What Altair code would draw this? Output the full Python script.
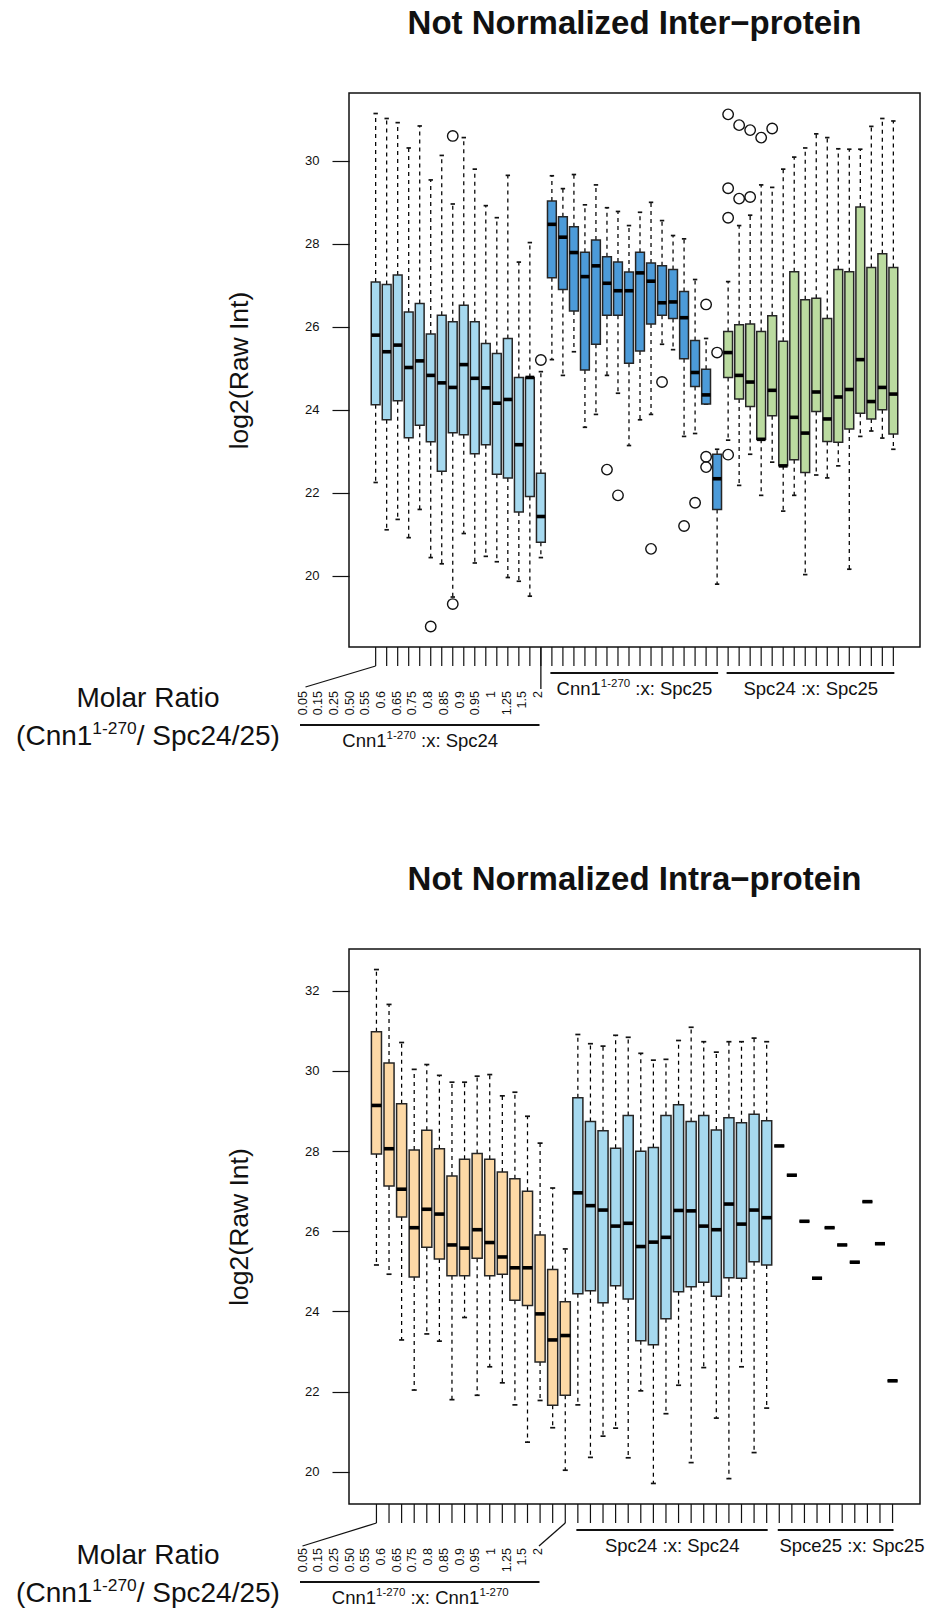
import altair as alt
import pandas as pd

FONT = "Liberation Sans"
INK = "#111111"
EDGE = "#262626"

# ---------------- tick labels ----------------
ratio_labels = ["0.05", "0.15", "0.25", "0.50", "0.55", "0.6", "0.65", "0.75",
                "0.8", "0.85", "0.9", "0.95", "1", "1.25", "1.5", "2"]

# ---------------- Inter-protein panel (top) ----------------
c24_wtop = [31.14, 31.02, 30.92, 30.31, 30.84, 29.54, 30.13, 28.96, 30.56, 29.80, 28.92, 28.63, 29.65, 27.56, 28.03, 24.92]
c24_q3   = [27.08, 27.02, 27.25, 26.36, 26.56, 25.83, 26.28, 26.12, 26.52, 26.12, 25.60, 25.36, 25.72, 24.78, 24.78, 22.47]
c24_med  = [25.80, 25.40, 25.56, 25.02, 25.18, 24.83, 24.65, 24.54, 25.09, 24.76, 24.53, 24.16, 24.25, 23.16, 24.78, 21.43]
c24_q1   = [24.12, 23.76, 24.22, 23.33, 23.63, 23.23, 22.52, 23.45, 23.40, 22.94, 23.16, 22.45, 22.36, 21.54, 21.91, 20.81]
c24_wbot = [22.25, 21.11, 21.36, 20.92, 21.60, 20.44, 20.29, 19.49, 21.02, 20.31, 20.47, 20.34, 19.96, 19.87, 19.51, 20.44]

c25_wtop = [29.64, 29.33, 29.67, 28.94, 29.42, 28.87, 28.78, 28.44, 28.76, 29.00, 28.56, 28.20, 28.12, 27.14, 25.72, 23.05]
c25_q3   = [29.03, 28.65, 28.41, 27.80, 28.09, 27.69, 27.56, 27.32, 27.80, 27.54, 27.47, 27.38, 26.85, 25.67, 24.98, 22.93]
c25_med  = [28.47, 28.16, 27.79, 27.21, 27.47, 27.05, 26.87, 26.87, 27.30, 27.10, 26.58, 26.60, 26.22, 24.90, 24.36, 22.34]
c25_q1   = [27.18, 26.90, 26.38, 24.96, 25.58, 26.28, 26.28, 25.12, 25.42, 26.07, 26.28, 26.20, 25.23, 24.56, 24.14, 21.60]
c25_wbot = [25.21, 24.83, 25.40, 23.58, 23.89, 24.83, 24.40, 23.14, 23.76, 23.89, 25.58, 25.45, 23.36, 23.43, 24.14, 19.80]

s2425_wtop = [27.09, 28.44, 28.69, 29.42, 29.36, 29.80, 30.09, 30.31, 30.65, 30.56, 30.29, 30.28, 30.28, 30.83, 31.02, 30.96]
s2425_q3   = [25.89, 26.05, 26.07, 25.89, 26.27, 25.65, 27.33, 26.65, 26.69, 26.20, 27.38, 27.33, 28.89, 27.43, 27.76, 27.43]
s2425_med  = [25.38, 24.83, 24.67, 23.29, 24.47, 22.65, 23.82, 23.44, 24.43, 23.78, 24.31, 24.49, 25.21, 24.20, 24.54, 24.38]
s2425_q1   = [24.78, 24.26, 24.08, 23.29, 23.86, 22.65, 22.80, 22.49, 23.96, 23.24, 23.22, 23.54, 23.92, 23.78, 24.00, 23.42]
s2425_wbot = [23.27, 22.18, 22.93, 21.94, 22.74, 21.56, 21.94, 20.03, 22.43, 22.36, 22.65, 20.16, 23.36, 23.49, 23.32, 23.05]

inter_out_box = [6, 8, 8, 16, 22, 23, 26, 27, 29, 30, 31, 31, 31, 32, 33, 33, 33, 33, 34, 34, 35, 35, 36, 37]
inter_out_val = [18.78, 30.60, 19.32, 25.20, 22.56, 21.94, 20.65, 24.67, 21.20, 21.76, 26.54, 22.87, 22.62, 25.38,
                 31.12, 29.34, 28.63, 22.92, 30.86, 29.09, 30.74, 29.13, 30.56, 30.78]

# ---------------- Intra-protein panel (bottom) ----------------
cc_wtop = [32.53, 31.66, 30.71, 30.04, 30.16, 29.89, 29.72, 29.72, 29.87, 29.91, 29.38, 29.47, 28.87, 28.20, 27.08, 25.56]
cc_q3   = [30.98, 30.20, 29.18, 28.03, 28.52, 28.06, 27.38, 27.80, 27.94, 27.80, 27.48, 27.31, 27.00, 25.91, 25.05, 24.24]
cc_med  = [29.14, 28.06, 27.05, 26.09, 26.55, 26.43, 25.66, 25.58, 26.04, 25.72, 25.36, 25.09, 25.09, 23.94, 23.29, 23.40]
cc_q1   = [27.93, 27.13, 26.36, 24.86, 25.60, 25.31, 24.89, 24.89, 25.33, 24.89, 24.93, 24.28, 24.15, 22.74, 21.66, 21.91]
cc_wbot = [25.16, 24.93, 23.29, 22.04, 23.44, 23.26, 21.80, 23.85, 21.91, 22.62, 22.22, 21.67, 20.74, 21.78, 21.10, 20.04]

ss_wtop = [30.91, 30.68, 30.62, 30.89, 30.84, 30.44, 30.27, 30.29, 30.76, 31.09, 30.73, 30.47, 30.73, 30.73, 30.82, 30.73]
ss_q3   = [29.33, 28.74, 28.51, 28.07, 28.89, 28.00, 28.09, 28.89, 29.16, 28.74, 28.89, 28.53, 28.83, 28.71, 28.92, 28.76]
ss_med  = [26.96, 26.64, 26.53, 26.13, 26.20, 25.62, 25.73, 25.85, 26.52, 26.51, 26.13, 26.04, 26.68, 26.18, 26.53, 26.34]
ss_q1   = [24.44, 24.52, 24.22, 24.64, 24.31, 23.27, 23.17, 23.82, 24.49, 24.62, 24.73, 24.38, 24.84, 24.83, 25.24, 25.16]
ss_wbot = [21.67, 20.36, 20.89, 21.09, 20.35, 22.02, 19.71, 21.45, 22.16, 20.23, 22.60, 21.34, 19.83, 22.62, 20.48, 21.59]

spc25_single = [28.13, 27.40, 26.25, 24.83, 26.09, 25.66, 25.23, 26.74, 25.69, 22.27]

# ---------------- colours ----------------
LIGHT_BLUE = "#A6D9EF"
DARK_BLUE = "#4C9BD9"
GREEN = "#BBDBA0"
ORANGE = "#FDD9A6"

# ---------------- helpers ----------------
W = 571
H_TOP = 554
H_BOT = 555
LAB0 = -46.5
LAB_STEP = 15.7

ARIAL = {' ': 278, '(': 333, ')': 333, '/': 278, ':': 278, '-': 333, '.': 278,
         'C': 722, 'S': 667, 'M': 833, 'R': 722, 'a': 556, 'c': 500, 'e': 556,
         'i': 222, 'l': 222, 'n': 556, 'o': 556, 'p': 556, 'r': 333, 't': 278, 'x': 500}


def tw(s, size):
    return sum(ARIAL.get(ch, 556) for ch in s) / 1000.0 * size


dummy = pd.DataFrame({"d": [0]})


def box_table(groups):
    rows = []
    pos = 0
    for fill, wt, a, m, b, wb in groups:
        for k in range(len(m)):
            pos += 1
            rows.append({"pos": pos, "lo": pos - 0.4, "hi": pos + 0.4,
                         "clo": pos - 0.2, "chi": pos + 0.2,
                         "wtop": wt[k], "q3": a[k], "med": m[k], "q1": b[k], "wbot": wb[k],
                         "fill": fill})
    return pd.DataFrame(rows)


def text_at(t, x, y, size, align="left", baseline="alphabetic", weight="normal"):
    return alt.Chart(dummy).mark_text(
        text=t, align=align, baseline=baseline, font=FONT, fontSize=size,
        fontWeight=weight, color=INK
    ).encode(x=alt.value(x), y=alt.value(y))


def rich(pieces, cx, cy, size, sup=0.62, rise=0.4):
    sizes = [size * sup if s else size for _, s in pieces]
    widths = [tw(t, sz) for (t, _), sz in zip(pieces, sizes)]
    x = cx - sum(widths) / 2.0
    base = cy + 0.358 * size
    out = []
    for (t, s), sz, w in zip(pieces, sizes, widths):
        stripped = t.lstrip(" ")
        lead = tw(t[:len(t) - len(stripped)], sz)
        out.append(text_at(stripped.rstrip(" "), x + lead, base - (rise * size if s else 0), sz))
        x += w
    return out


def line_at(x1, y1, x2, y2, width=1.3):
    return alt.Chart(dummy).mark_rule(color=INK, strokeWidth=width).encode(
        x=alt.value(x1), x2=alt.value(x2), y=alt.value(y1), y2=alt.value(y2))


def panel(df, out, h, title, g1_pieces, g2_pieces, g3_pieces, g3_shift, bottom_style, anchor=False):
    n = len(df)
    xd = [0.5 - 0.04 * n, n + 0.5 + 0.04 * n]
    vals = list(df["wtop"]) + list(df["wbot"]) + (list(out["val"]) if out is not None else [])
    lo, hi = min(vals), max(vals)
    yd = [lo - 0.04 * (hi - lo), hi + 0.04 * (hi - lo)]
    xs = alt.Scale(domain=xd, nice=False, zero=False)
    ys = alt.Scale(domain=yd, nice=False, zero=False)
    yticks = list(range(20, int(yd[1]) + 1, 2))

    def px(p):
        return (p - xd[0]) / (xd[1] - xd[0]) * W

    def dx(pix):
        return xd[0] + pix / W * (xd[1] - xd[0])

    yax = alt.Axis(values=yticks, tickSize=17, tickWidth=1.2, tickColor=INK,
                   labelFont=FONT, labelFontSize=13, labelColor=INK, labelPadding=13,
                   domain=False, grid=False, title="log2(Raw Int)", titleFont=FONT,
                   titleFontSize=26.5, titleFontWeight="normal", titleColor=INK,
                   titleX=-110, titleY=h / 2, titleAngle=270, titleAlign="center",
                   titleBaseline="middle")

    def X(f):
        return alt.X(f + ":Q", scale=xs, axis=None)

    def Y(f):
        return alt.Y(f + ":Q", scale=ys, axis=yax)

    base = alt.Chart(df)
    layers = [
        base.mark_rule(color="#000000", strokeWidth=1.25, strokeDash=[4, 4]).encode(
            x=X("pos"), y=Y("q3"), y2="wtop"),
        base.mark_rule(color="#000000", strokeWidth=1.25, strokeDash=[4, 4]).encode(
            x=X("pos"), y=Y("q1"), y2="wbot"),
        base.mark_rule(color=INK, strokeWidth=1.7).encode(x=X("clo"), x2="chi", y=Y("wtop")),
        base.mark_rule(color=INK, strokeWidth=1.7).encode(x=X("clo"), x2="chi", y=Y("wbot")),
        base.mark_rect(stroke=EDGE, strokeWidth=1.5).encode(
            x=X("lo"), x2="hi", y=Y("q1"), y2="q3",
            color=alt.Color("fill:N", scale=None, legend=None)),
        base.mark_rule(color="#000000", strokeWidth=3.6, strokeCap="butt").encode(
            x=X("lo"), x2="hi", y=Y("med")),
        # axis ticks at every box position
        base.mark_rule(color=INK, strokeWidth=1.2).encode(
            x=X("pos"), y=alt.value(h), y2=alt.value(h + 19)),
    ]
    if out is not None:
        layers.append(alt.Chart(out).mark_point(
            shape="circle", filled=False, size=110, strokeWidth=1.4, color=INK, opacity=1
        ).encode(x=X("pos"), y=Y("val")))

    # rotated ratio labels
    lab = pd.DataFrame({"label": ratio_labels,
                        "xl": [dx(LAB0 + j * LAB_STEP) for j in range(len(ratio_labels))]})
    layers.append(alt.Chart(lab).mark_text(
        angle=270, align="right", baseline="middle", font=FONT, fontSize=12.5, color=INK
    ).encode(x=X("xl"), y=alt.value(h + 44), text="label:N"))

    lab_first = LAB0
    lab_last = LAB0 + (len(ratio_labels) - 1) * LAB_STEP
    # connectors from the ticks to the fanned labels
    if bottom_style:
        layers.append(line_at(px(1), h + 19, lab_first, h + 42))
        layers.append(line_at(px(16), h + 19, lab_last + 1, h + 42))
    else:
        layers.append(line_at(px(1), h + 19, lab_first + 3, h + 40))
        layers.append(line_at(px(16), h, px(16), h + 42))

    # group underlines
    layers.append(line_at(lab_first - 2.5, h + 78, lab_last + 1.5, h + 78, width=2))
    layers.append(line_at(px(17) - 1.5, h + 26, px(32) + 1, h + 26, width=2))
    layers.append(line_at(px(33) - 1.5, h + 26, px(n) + 1, h + 26, width=2))

    # group labels
    layers += rich(g1_pieces, (lab_first + lab_last) / 2.0, h + 93, 18.5)
    layers += rich(g2_pieces, (px(17) + px(32)) / 2.0, h + 41, 18.5)
    layers += rich(g3_pieces, (px(33) + px(n)) / 2.0 + g3_shift, h + 41, 18.5)

    # molar ratio caption
    layers.append(text_at("Molar Ratio", -201, h + 52, 28, align="center", baseline="middle"))
    layers += rich([("(Cnn1", False), ("1-270", True), ("/ Spc24/25)", False)], -201, h + 88, 28)

    # panel title
    layers.append(text_at(title, W / 2.0, -69, 33, align="center", baseline="middle", weight="bold"))

    if anchor:
        layers.append(alt.Chart(dummy).mark_rule(opacity=0, strokeOpacity=0).encode(
            x=alt.value(-348), x2=alt.value(-340), y=alt.value(-92), y2=alt.value(-92)))

    return alt.layer(*layers).properties(width=W, height=h)


inter_df = box_table([
    (LIGHT_BLUE, c24_wtop, c24_q3, c24_med, c24_q1, c24_wbot),
    (DARK_BLUE, c25_wtop, c25_q3, c25_med, c25_q1, c25_wbot),
    (GREEN, s2425_wtop, s2425_q3, s2425_med, s2425_q1, s2425_wbot),
])
inter_out = pd.DataFrame({"pos": inter_out_box, "val": inter_out_val})

intra_df = box_table([
    (ORANGE, cc_wtop, cc_q3, cc_med, cc_q1, cc_wbot),
    (LIGHT_BLUE, ss_wtop, ss_q3, ss_med, ss_q1, ss_wbot),
    ("#FFFFFF", spc25_single, spc25_single, spc25_single, spc25_single, spc25_single),
])

top = panel(inter_df, inter_out, H_TOP, "Not Normalized Inter\u2212protein",
            [("Cnn1", False), ("1-270", True), (" :x: Spc24", False)],
            [("Cnn1", False), ("1-270", True), (" :x: Spc25", False)],
            [("Spc24 :x: Spc25", False)], 0, False, anchor=True)

bottom = panel(intra_df, None, H_BOT, "Not Normalized Intra\u2212protein",
               [("Cnn1", False), ("1-270", True), (" :x: Cnn1", False), ("1-270", True)],
               [("Spc24 :x: Spc24", False)],
               [("Spce25 :x: Spc25", False)], 16, True)

chart = alt.vconcat(top, bottom, spacing=302, bounds="flush").properties(
    padding=0
).configure_view(stroke=INK, strokeWidth=1.5)

chart.save("out.html", embed_options={"renderer": "svg", "actions": False})
